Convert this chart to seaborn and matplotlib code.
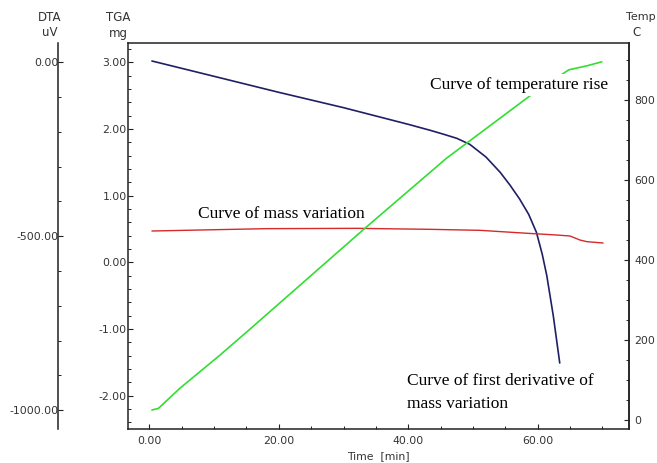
import matplotlib
matplotlib.use("Agg")
import matplotlib.pyplot as plt
import seaborn as sns
from matplotlib.ticker import MultipleLocator, FormatStrFormatter

# ---- data ----
time_tga = [0.4, 10.0, 20.0, 30.0, 40.0, 43.4, 45.5, 47.5, 49.5, 52.0, 54.2, 55.7,
            57.2, 58.6, 59.8, 60.7, 61.4, 62.4, 63.4]
tga_mg = [3.02, 2.79, 2.55, 2.32, 2.07, 1.98, 1.92, 1.86, 1.77, 1.58, 1.35, 1.16,
          0.95, 0.72, 0.45, 0.12, -0.20, -0.80, -1.51]

time_mass = [0.4, 10.4, 18.1, 32.0, 43.4, 51.1, 55.2, 58.5, 62.9, 65.0, 66.5, 67.6, 70.1]
mass_var = [0.47, 0.49, 0.505, 0.51, 0.495, 0.48, 0.455, 0.435, 0.41, 0.395, 0.335, 0.31, 0.29]

time_temp = [0.4, 1.4, 4.7, 10.9, 15.4, 33.3, 45.9, 58.8, 64.8, 67.6, 69.9]
temp_c = [25, 29, 79, 162, 225, 479, 654, 810, 875, 885, 895]

# ---- style ----
sns.set_style("ticks")
plt.rcParams['font.family'] = ['DejaVu Sans']
plt.rcParams['axes.unicode_minus'] = False

W, H = 657, 463
fig = plt.figure(figsize=(W / 100, H / 100), dpi=100)
L, R, T, B = 128, 629, 43, 429
ax = fig.add_axes([L / W, 1 - B / H, (R - L) / W, (B - T) / H])
ax_t = ax.twinx()
ax_d = ax.twinx()

navy = '#1f1f66'
green = '#33dd33'
red = '#d42a2a'

sns.lineplot(x=time_tga, y=tga_mg, ax=ax, color=navy, lw=1.2, estimator=None, sort=False)
sns.lineplot(x=time_mass, y=mass_var, ax=ax, color=red, lw=1.0, estimator=None, sort=False)
sns.lineplot(x=time_temp, y=temp_c, ax=ax_t, color=green, lw=1.2, estimator=None, sort=False)

ax.set_xlim(-3.3, 74.1)
ax.set_ylim(-2.5, 3.29)
ax_t.set_ylim(-22.5, 942)
ax_d.set_ylim(-1054, 55)

tick_col = '#333333'
spine_col = '#222222'
fs = 7.8

# main axes
ax.xaxis.set_major_locator(MultipleLocator(20))
ax.xaxis.set_minor_locator(MultipleLocator(5))
ax.yaxis.set_major_locator(MultipleLocator(1))
ax.yaxis.set_minor_locator(MultipleLocator(0.2))
ax.xaxis.set_major_formatter(FormatStrFormatter('%.2f'))
ax.yaxis.set_major_formatter(FormatStrFormatter('%.2f'))
ax.tick_params(axis='both', which='major', direction='in', length=3.5, width=0.8,
               labelsize=fs, labelcolor=tick_col, color=spine_col)
ax.tick_params(axis='both', which='minor', direction='in', length=2.2, width=0.7, color=spine_col)
ax.tick_params(axis='y', which='major', pad=1)
ax.tick_params(axis='x', which='major', pad=5)
for s in ax.spines.values():
    s.set_color(spine_col)
    s.set_linewidth(1.1)
ax.set_xlabel('Time  [min]', fontsize=fs, color=tick_col, labelpad=4)
ax.set_ylabel('')

# temperature axis (right)
ax_t.yaxis.set_major_locator(MultipleLocator(200))
ax_t.yaxis.set_minor_locator(MultipleLocator(50))
ax_t.yaxis.set_major_formatter(FormatStrFormatter('%d'))
ax_t.tick_params(axis='y', which='major', direction='in', length=3.5, width=0.8,
                 labelsize=fs, labelcolor=tick_col, color=spine_col, pad=4)
ax_t.tick_params(axis='y', which='minor', direction='in', length=2.2, width=0.7, color=spine_col)
for k in ['top', 'bottom', 'left']:
    ax_t.spines[k].set_visible(False)
ax_t.spines['right'].set_color(spine_col)
ax_t.spines['right'].set_linewidth(1.1)
ax_t.set_ylabel('')

# DTA axis (far left)
ax_d.yaxis.tick_left()
ax_d.yaxis.set_label_position('left')
for k in ['top', 'bottom', 'right']:
    ax_d.spines[k].set_visible(False)
ax_d.spines['left'].set_visible(True)
ax_d.spines['left'].set_position(('axes', (58.3 - L) / (R - L)))
ax_d.spines['left'].set_color(spine_col)
ax_d.spines['left'].set_linewidth(1.1)
ax_d.yaxis.set_major_locator(MultipleLocator(500))
ax_d.yaxis.set_minor_locator(MultipleLocator(100))
ax_d.yaxis.set_major_formatter(FormatStrFormatter('%.2f'))
ax_d.tick_params(axis='y', which='major', direction='in', length=3.5, width=0.8,
                 labelsize=fs, labelcolor=tick_col, color=spine_col, pad=0)
ax_d.tick_params(axis='y', which='minor', direction='in', length=2.2, width=0.7, color=spine_col)
ax_d.set_ylabel('')

# unit headers
def ftext(x, y, s, ha='center', size=8.5):
    fig.text(x / W, 1 - y / H, s, ha=ha, va='center', fontsize=size, color=tick_col)

ftext(49.5, 17.5, 'DTA')
ftext(49.5, 33, 'uV')
ftext(118.5, 17.5, 'TGA')
ftext(118.5, 33, 'mg')
ftext(656, 17.5, 'Temp', ha='right', size=8)
ftext(632.5, 33, 'C', ha='left')

# curve annotations (drawn on top-most axes, positioned in time / TGA coordinates)
serif = ['Liberation Serif', 'DejaVu Serif']
afs = 12.5
ax_d.text(43.4, 2.60, 'Curve of temperature rise', transform=ax.transData,
          family=serif, fontsize=afs, ha='left', va='baseline', color='black', zorder=10,
          bbox=dict(boxstyle='square,pad=0.2', fc='white', ec='none'))
ax_d.text(7.5, 0.66, 'Curve of mass variation', transform=ax.transData,
          family=serif, fontsize=afs, ha='left', va='baseline', color='black', zorder=10)
ax_d.text(39.8, -1.84, 'Curve of first derivative of', transform=ax.transData,
          family=serif, fontsize=afs, ha='left', va='baseline', color='black', zorder=10)
ax_d.text(39.8, -2.19, 'mass variation', transform=ax.transData,
          family=serif, fontsize=afs, ha='left', va='baseline', color='black', zorder=10)

fig.savefig('out.png', dpi=100)
